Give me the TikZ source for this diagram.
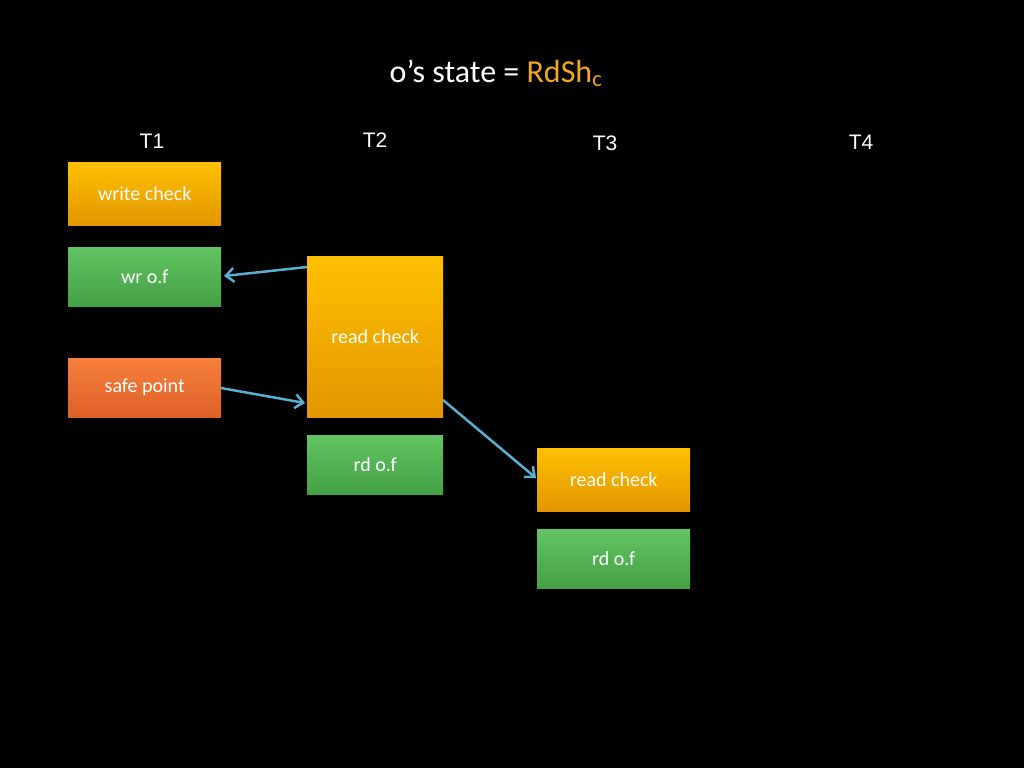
\documentclass[tikz,border=0pt]{standalone}
\usepackage{fontspec}
\setmainfont{Carlito}
\newfontfamily\arialf{Liberation Sans}
\usetikzlibrary{arrows.meta}
\definecolor{gold}{HTML}{F0A81C}
\definecolor{arr}{HTML}{5AAFD0}
\begin{document}
\begin{tikzpicture}[x=1pt,y=-1pt,
 box/.style={draw=none,text=white,font=\fontsize{20}{24}\selectfont,inner sep=0pt,anchor=north west},
 orange/.style={box,top color=orange!10!yellow!60!orange,bottom color=orange!85!black!95,
   top color={rgb,255:red,255;green,192;blue,0},bottom color={rgb,255:red,226;green,150;blue,0}},
 green/.style={box,top color={rgb,255:red,98;green,196;blue,98},bottom color={rgb,255:red,68;green,160;blue,68}},
 red/.style={box,top color={rgb,255:red,246;green,128;blue,60},bottom color={rgb,255:red,222;green,96;blue,40}},
 tl/.style={text=white,font=\arialf\fontsize{21}{24}\selectfont},
 con/.style={draw=arr,line width=2.5pt,-{Straight Barb[length=8pt,width=14pt]}}]
\fill[black] (0,0) rectangle (1024,768);
\useasboundingbox (0,0) rectangle (1024,768);
\node[text=white,font=\fontsize{32}{36}\selectfont] (title) at (496,73) {o’s state = \textcolor{gold}{RdSh\textsubscript{c}}};
\node[tl] (t1) at (152,141) {T1};
\node[tl] (t2) at (375,140) {T2};
\node[tl] (t3) at (605,143) {T3};
\node[tl] (t4) at (861,142) {T4};
\node[orange,minimum width=153pt,minimum height=63pt] (wc) at (68,162) {write check};
\node[green,minimum width=153pt,minimum height=59pt] (wr) at (68,247) {wr o.f};
\node[red,minimum width=153pt,minimum height=59pt] (sp) at (68,358) {safe point};
\node[orange,minimum width=136pt,minimum height=161pt] (rc2) at (307,256) {read check};
\node[green,minimum width=136pt,minimum height=59pt] (rd2) at (307,435) {rd o.f};
\node[orange,minimum width=153pt,minimum height=63pt] (rc3) at (537,448) {read check};
\node[green,minimum width=153pt,minimum height=59pt] (rd3) at (537,529) {rd o.f};
\coordinate (a1) at (307,267);
\coordinate (a2) at (224,276);
\draw[con] (a1) -- (a2);
\coordinate (b1) at (221,388);
\coordinate (b2) at (305,403);
\draw[con] (b1) -- (b2);
\coordinate (c1) at (443,400);
\coordinate (c2) at (536,478);
\draw[con] (c1) -- (c2);
\end{tikzpicture}
\end{document}
